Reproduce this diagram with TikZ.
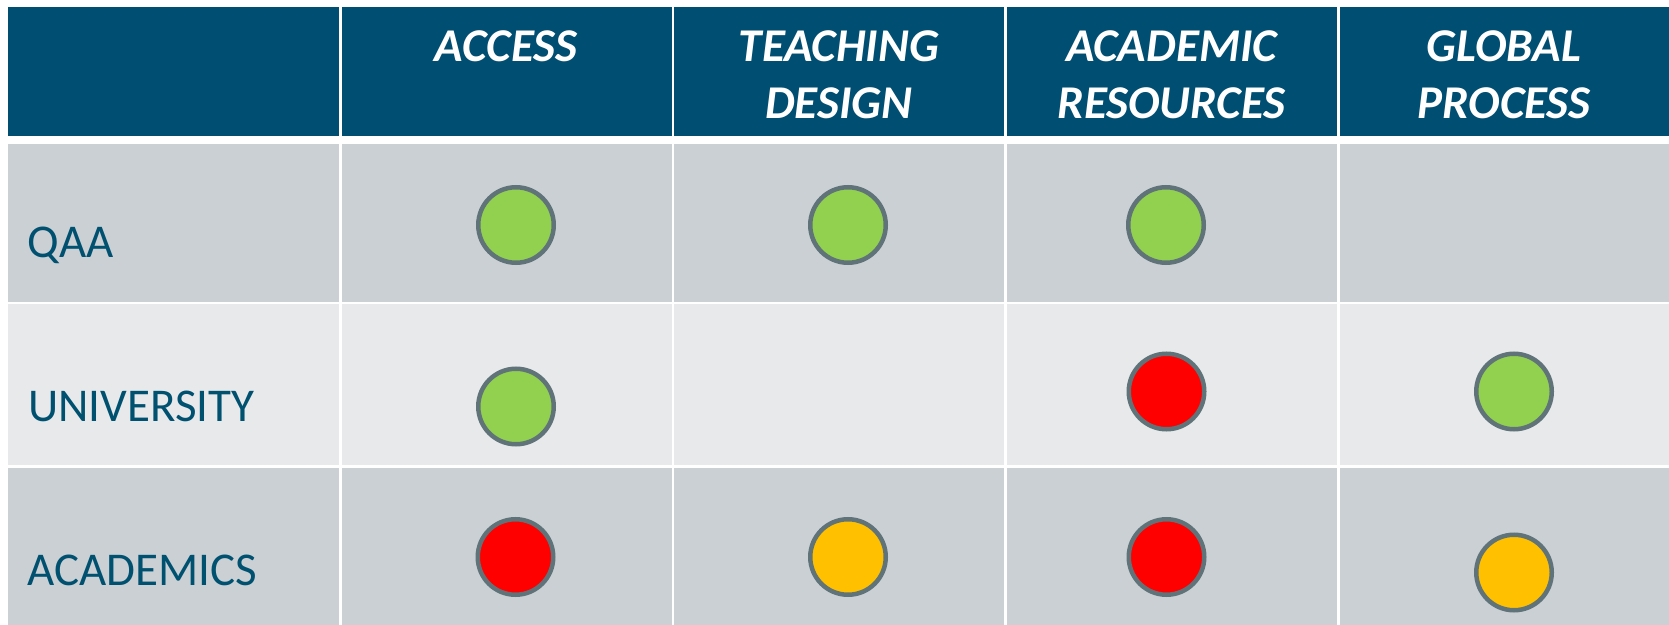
\documentclass[tikz,border=0pt]{standalone}
\usepackage{fontspec}
\setmainfont{Carlito}
\definecolor{headblue}{RGB}{0,78,113}
\definecolor{labelblue}{RGB}{0,80,112}
\definecolor{rowgray}{RGB}{203,208,212}
\definecolor{rowlight}{RGB}{232,233,235}
\definecolor{lampedge}{RGB}{96,115,121}
\definecolor{lampgreen}{RGB}{146,208,80}
\definecolor{lampred}{RGB}{255,0,0}
\definecolor{lampamber}{RGB}{255,192,0}

\begin{document}
\begin{tikzpicture}[
    x=0.5pt, y=-0.5pt,
    head cell/.style={fill=headblue},
    dark cell/.style={fill=rowgray},
    light cell/.style={fill=rowlight},
    head text/.style={anchor=north, inner sep=0pt, align=center,
        text=white, font=\fontsize{23.5}{28.5}\selectfont\bfseries\itshape},
    row label/.style={anchor=base west, inner sep=0pt, text=labelblue,
        font=\fontsize{23.5}{28.5}\selectfont},
    lamp/.style={circle, draw=lampedge, line width=2.25pt,
        minimum size=37.75pt, inner sep=0pt}
    ]
    \useasboundingbox (0,0) rectangle (1669,625);
    \fill[white] (0,0) rectangle (1669,625);
    % header
    \fill[head cell] (8,7) rectangle (339,136);
    \fill[head cell] (341.5,7) rectangle (671.5,136);
    \fill[head cell] (674,7) rectangle (1004,136);
    \fill[head cell] (1006.5,7) rectangle (1337,136);
    \fill[head cell] (1339.5,7) rectangle (1669,136);
    % rows
    \fill[dark cell] (8,144) rectangle (339,302);
    \fill[dark cell] (341.5,144) rectangle (671.5,302);
    \fill[dark cell] (674,144) rectangle (1004,302);
    \fill[dark cell] (1006.5,144) rectangle (1337,302);
    \fill[dark cell] (1339.5,144) rectangle (1669,302);
    \fill[light cell] (8,304.5) rectangle (339,465);
    \fill[light cell] (341.5,304.5) rectangle (671.5,465);
    \fill[light cell] (674,304.5) rectangle (1004,465);
    \fill[light cell] (1006.5,304.5) rectangle (1337,465);
    \fill[light cell] (1339.5,304.5) rectangle (1669,465);
    \fill[dark cell] (8,467.5) rectangle (339,625);
    \fill[dark cell] (341.5,467.5) rectangle (671.5,625);
    \fill[dark cell] (674,467.5) rectangle (1004,625);
    \fill[dark cell] (1006.5,467.5) rectangle (1337,625);
    \fill[dark cell] (1339.5,467.5) rectangle (1669,625);
    % column titles
    \node[head text] (access) at (506,30) {ACCESS};
    \node[head text] (design) at (839,30) {TEACHING\\DESIGN};
    \node[head text] (resources) at (1171.5,30) {ACADEMIC\\RESOURCES};
    \node[head text] (global) at (1504,30) {GLOBAL\\PROCESS};
    % row titles
    \node[row label] (qaa) at (27,258) {QAA};
    \node[row label] (university) at (28,421) {UNIVERSITY};
    \node[row label] (academics) at (27,585) {ACADEMICS};
    % lamps
    \node[lamp, fill=lampgreen] (qaa-access) at (516,225) {};
    \node[lamp, fill=lampgreen] (qaa-design) at (848,225) {};
    \node[lamp, fill=lampgreen] (qaa-resources) at (1166,225) {};
    \node[lamp, fill=lampgreen] (university-access) at (516,406.5) {};
    \node[lamp, fill=lampred] (university-resources) at (1166.5,391.5) {};
    \node[lamp, fill=lampgreen] (university-global) at (1514,391.5) {};
    \node[lamp, fill=lampred] (academics-access) at (515.5,557) {};
    \node[lamp, fill=lampamber] (academics-design) at (848,557) {};
    \node[lamp, fill=lampred] (academics-resources) at (1166.5,557) {};
    \node[lamp, fill=lampamber] (academics-global) at (1514,572.5) {};
\end{tikzpicture}
\end{document}
